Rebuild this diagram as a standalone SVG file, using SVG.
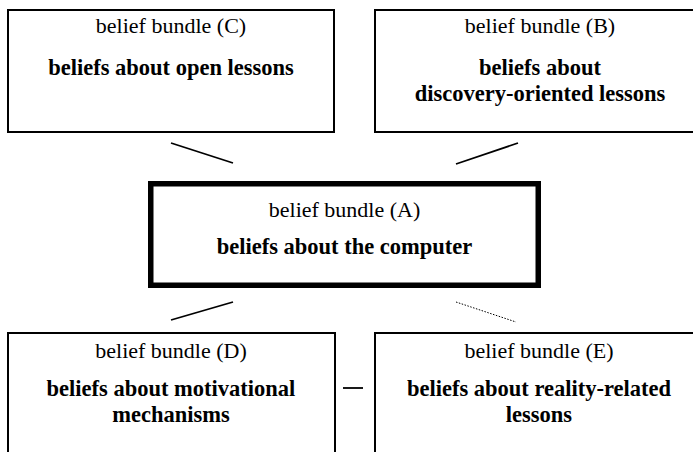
<svg xmlns="http://www.w3.org/2000/svg" width="693" height="452" viewBox="0 0 693 452">
<style>
.box{fill:#fff;stroke:#000;stroke-width:2}
.main{fill:#fff;stroke:#000;stroke-width:5.5}
.t{font-family:"Liberation Serif","Times New Roman",serif;font-size:22px;text-anchor:middle;fill:#000}
.b{font-weight:bold;font-size:22.5px}
.c{stroke:#000;stroke-width:1.8;fill:none}
.d{stroke:#000;stroke-width:1;stroke-dasharray:1.5 1.5;fill:none}
</style>
<rect width="693" height="452" fill="#fff"/>
<g id="connectors">
<line class="c" x1="171" y1="143" x2="233" y2="163"/>
<line class="c" x1="456" y1="164" x2="518" y2="143"/>
<line class="c" x1="233" y1="302" x2="171" y2="320"/>
<line class="d" x1="456" y1="302" x2="516" y2="322"/>
<line class="c" x1="343" y1="388" x2="363" y2="388"/>
</g>
<g id="nodeC">
<rect class="box" x="8" y="10" width="326" height="122"/>
<text class="t" x="171" y="33">belief bundle (C)</text>
<text class="t b" x="171" y="75">beliefs about open lessons</text>
</g>
<g id="nodeB">
<rect class="box" x="375" y="10" width="330" height="122"/>
<text class="t" x="540" y="33">belief bundle (B)</text>
<text class="t b" x="540" y="75">beliefs about</text>
<text class="t b" x="540" y="101">discovery-oriented lessons</text>
</g>
<g id="nodeA">
<rect class="main" x="150.75" y="183.75" width="387.5" height="101.5"/>
<text class="t" x="344.5" y="217">belief bundle (A)</text>
<text class="t b" x="344.5" y="254">beliefs about the computer</text>
</g>
<g id="nodeD">
<rect class="box" x="8" y="333" width="327" height="140"/>
<text class="t" x="171" y="358">belief bundle (D)</text>
<text class="t b" x="171" y="396">beliefs about motivational</text>
<text class="t b" x="171" y="422">mechanisms</text>
</g>
<g id="nodeE">
<rect class="box" x="375" y="333" width="330" height="140"/>
<text class="t" x="539" y="358">belief bundle (E)</text>
<text class="t b" x="539" y="396">beliefs about reality-related</text>
<text class="t b" x="539" y="422">lessons</text>
</g>
</svg>
